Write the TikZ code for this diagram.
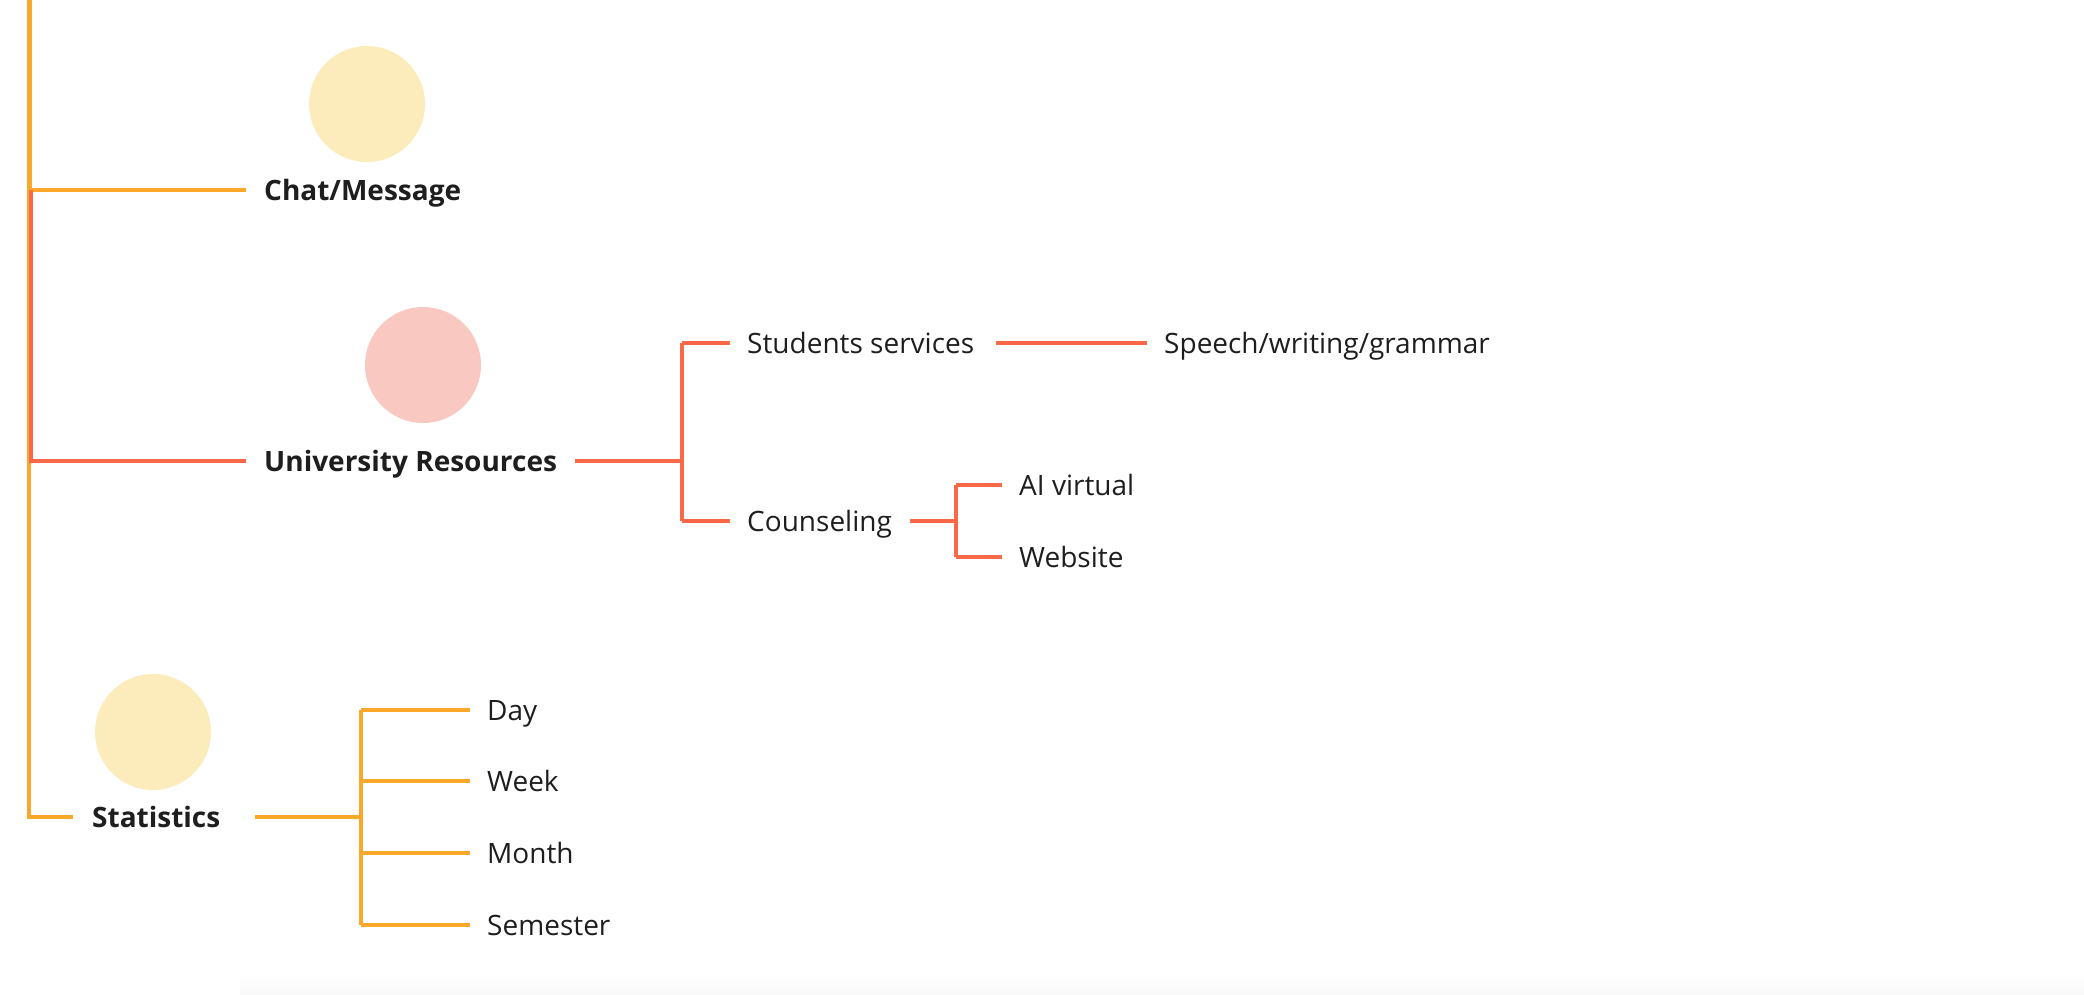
\documentclass[tikz,border=0pt]{standalone}
\usepackage{fontspec}
\setmainfont{Open Sans}
\definecolor{orng}{HTML}{F9A82A}
\definecolor{rd}{HTML}{FA6847}
\definecolor{paleY}{HTML}{FCECBB}
\definecolor{paleR}{HTML}{F9C8C0}
\definecolor{ink}{HTML}{1E1E1E}
\begin{document}
\begin{tikzpicture}[x=1pt,y=-1pt,
  olink/.style={draw=orng,line width=3.3pt},
  rlink/.style={draw=rd,line width=3.3pt},
  head/.style={anchor=west,inner xsep=18pt,inner ysep=0pt,text height=26pt,text depth=6pt,text=ink,font=\fontsize{28}{32}\selectfont\bfseries},
  leaf/.style={anchor=west,inner xsep=17pt,inner ysep=0pt,text height=26pt,text depth=6pt,text=ink,font=\fontsize{28}{32}\selectfont},
  dot/.style={circle,minimum size=116pt,inner sep=0pt,draw=none}]
\useasboundingbox (0,0) rectangle (2084,994);
\fill[top color=white,bottom color=black!2.5,draw=none] (240,972) rectangle (2084,994);
% circles
\node[dot,fill=paleY] (c1) at (367,104) {};
\node[dot,fill=paleR] (c2) at (423,365) {};
\node[dot,fill=paleY] (c3) at (153,732) {};
% trunk coordinates
\coordinate (top) at (29,0);
\coordinate (jchat) at (29,190);
\coordinate (jur) at (31,461);
\coordinate (jurt) at (31,190);
\coordinate (jstat) at (29,817);
% heads
\node[head] (chat) at (246,190) {Chat/Message};
\node[head] (ur) at (246,461) {University Resources};
\node[head,inner xsep=0pt] (stat) at (92,817) {Statistics};
% trunk
\draw[olink,line width=5pt] (top) -- (jchat);
\draw[olink] (top) -- (jstat) -- ([xshift=-19pt]stat.west);
\draw[olink] (jchat) -- (chat.west);
\draw[rlink] (jurt) -- (jur) -- (ur.west);
% University Resources subtree
\coordinate (ujun) at (682,461);
\coordinate (ujt) at (682,343);
\coordinate (ujb) at (682,521);
\node[leaf] (ss) at (730,343) {Students services};
\node[leaf] (sw) at (1147,343) {Speech/writing/grammar};
\node[leaf] (co) at (730,521) {Counseling};
\draw[rlink] (ur.east) -- (ujun);
\draw[rlink] (ujt) -- (ujb);
\draw[rlink] (ujt) -- (ss.west);
\draw[rlink] (ujb) -- (co.west);
\draw[rlink] ([xshift=5pt]ss.east) -- (sw.west);
\coordinate (cjun) at (956,521);
\coordinate (cjt) at (956,485);
\coordinate (cjb) at (956,557);
\node[leaf] (ai) at (1002,485) {AI virtual};
\node[leaf] (web) at (1002,557) {Website};
\draw[rlink] ([xshift=1pt]co.east) -- (cjun);
\draw[rlink] (cjt) -- (cjb);
\draw[rlink] (cjt) -- (ai.west);
\draw[rlink] (cjb) -- (web.west);
% Statistics subtree
\coordinate (sjun) at (361,817);
\coordinate (sjt) at (361,710);
\coordinate (sjb) at (361,925);
\coordinate (sjw) at (361,781);
\coordinate (sjm) at (361,853);
\node[leaf] (day) at (470,710) {Day};
\node[leaf] (week) at (470,781) {Week};
\node[leaf] (month) at (470,853) {Month};
\node[leaf] (sem) at (470,925) {Semester};
\draw[olink] ([xshift=34pt]stat.east) -- (sjun);
\draw[olink] (sjt) -- (sjb);
\draw[olink] (sjt) -- (day.west);
\draw[olink] (sjw) -- (week.west);
\draw[olink] (sjm) -- (month.west);
\draw[olink] (sjb) -- (sem.west);
\end{tikzpicture}
\end{document}
